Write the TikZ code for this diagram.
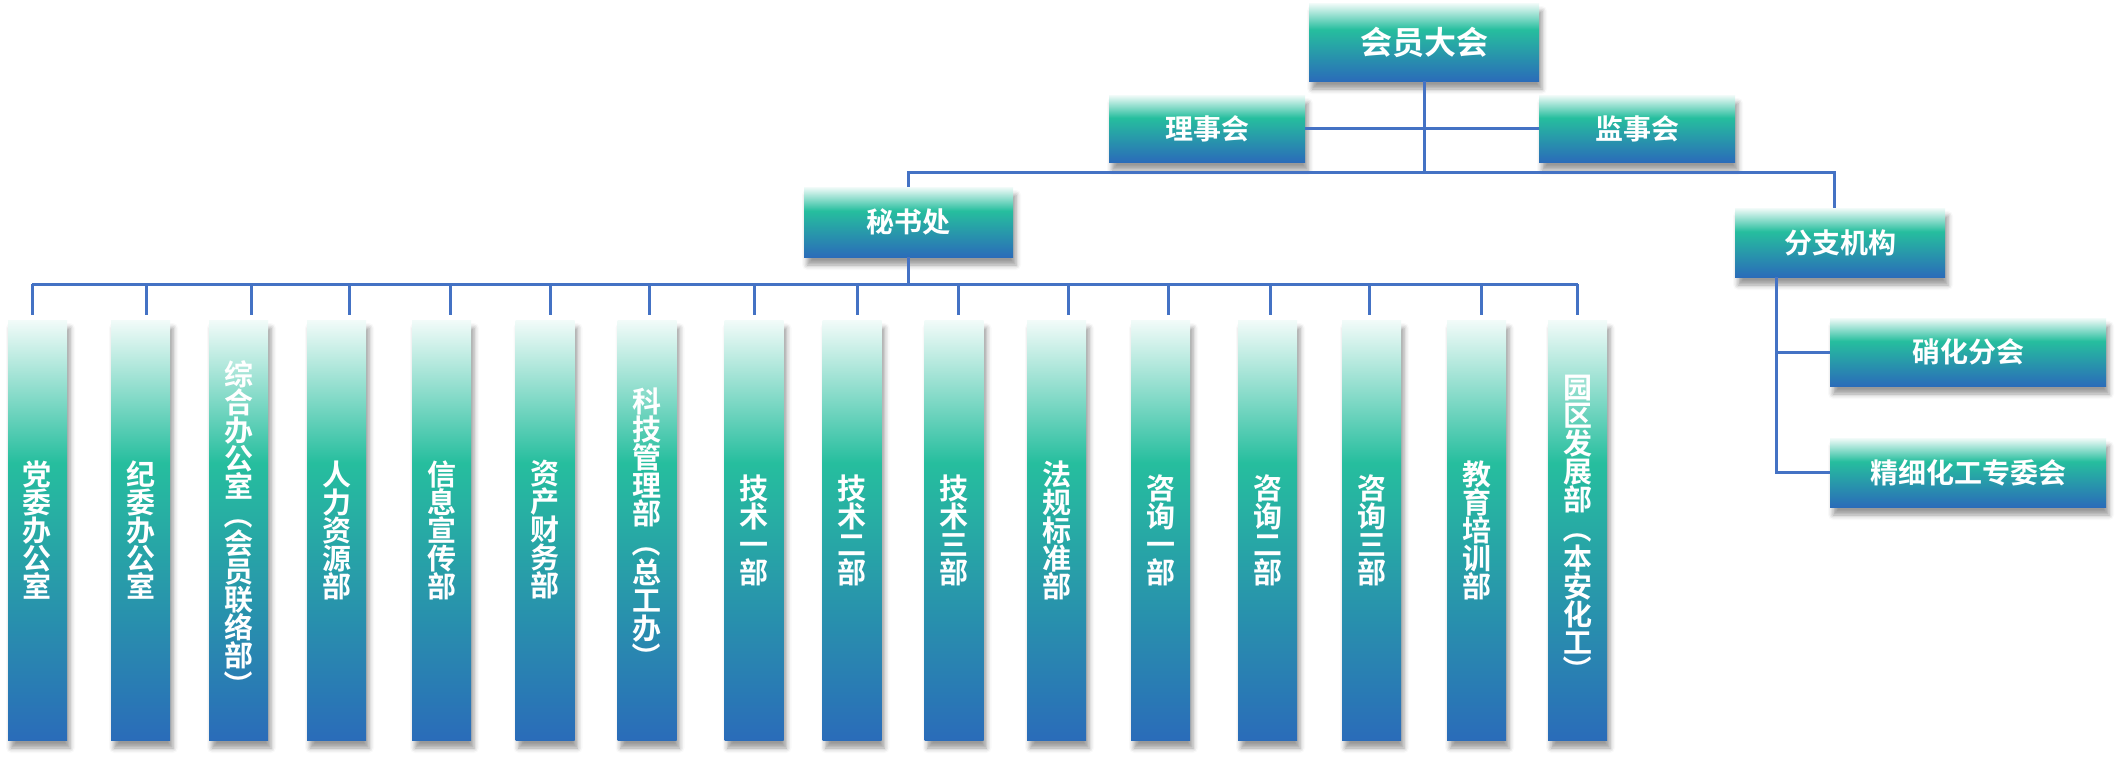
\documentclass[tikz,border=0pt]{standalone}
\usepackage{fontspec}
\setmainfont{Noto Sans CJK SC}[BoldFont={Noto Sans CJK SC Bold}]
\usepackage{graphicx}
\usepackage{tikz}
\usetikzlibrary{positioning, shadows.blur}

\definecolor{orgblue}{HTML}{2A6CB9}
\definecolor{orggreen}{HTML}{26BE9E}
\definecolor{orgtop}{HTML}{F2FBF9}
\definecolor{orgline}{HTML}{4472C4}

\pgfdeclareverticalshading{orgshade}{100bp}{%
  color(0bp)=(orgblue); color(25bp)=(orgblue); color(58bp)=(orggreen);
  color(75bp)=(orgtop); color(100bp)=(orgtop)}

% parentheses turned for vertical text
\newcommand{\vlparen}{\rotatebox[origin=c]{-90}{（}}
\newcommand{\vrparen}{\rotatebox[origin=c]{-90}{）}}

\begin{document}
\begin{tikzpicture}[
    x=1pt, y=-1pt,
    box/.style = {
        shade, shading=orgshade, inner sep=0pt,
        text=white, align=center,
        font=\fontsize{28}{30}\selectfont\bfseries,
        blur shadow={shadow xshift=3pt, shadow yshift=-8pt,
                     shadow blur radius=5pt, shadow opacity=40}
    },
    colbox/.style = {
        box, minimum width=59pt, minimum height=420pt,
        font=\fontsize{29}{28}\selectfont\bfseries
    },
    link/.style = {draw=orgline, line width=3pt},
]
\useasboundingbox (0,0) rectangle (2115,756);

%% ── Top level ────────────────────────────────────────────────────────
\node[box, minimum width=230pt, minimum height=78pt,
      font=\fontsize{32}{34}\selectfont\bfseries]
  (hyd) at (1424, 42) {会员大会};
\node[box, minimum width=196pt, minimum height=67pt] (lsh) at (1207, 128.5) {理事会};
\node[box, minimum width=196pt, minimum height=67pt] (jsh) at (1637, 128.5) {监事会};

%% ── Second level ─────────────────────────────────────────────────────
\node[box, minimum width=209pt, minimum height=70pt] (msc)  at (908.5, 222) {秘书处};
\node[box, minimum width=210pt, minimum height=69pt] (fzjg) at (1840, 242.5) {分支机构};

%% Branches (right side)
\node[box, minimum width=276pt, minimum height=68pt] (xhfh) at (1968, 352) {硝化分会};
\node[box, minimum width=276pt, minimum height=69pt] (jxhg) at (1968, 472.5) {精细化工专委会};

%% ── Departments (y = 530) ────────────────────────────────────────────
\coordinate (bar) at (0, 284);
\foreach \x/\off/\name/\txt in {
    37.5/-5.5/dwb/{党\\委\\办\\公\\室},
    140.5/5.5/jwb/{纪\\委\\办\\公\\室},
    238.5/12.5/zhb/{综\\合\\办\\公\\室\\\vlparen\\会\\员\\联\\络\\部\\\vrparen},
    336.5/12.5/rlb/{人\\力\\资\\源\\部},
    441.5/8.5/xxb/{信\\息\\宣\\传\\部},
    545/5/cwb/{资\\产\\财\\务\\部},
    647/2/kjb/{科\\技\\管\\理\\部\\\vlparen\\总\\工\\办\\\vrparen},
    754/0/jsa/{技\\术\\一\\部},
    852/5/jsb/{技\\术\\二\\部},
    954/4/jsc/{技\\术\\三\\部},
    1056.5/11.5/fgb/{法\\规\\标\\准\\部},
    1160.5/7.5/zxa/{咨\\询\\一\\部},
    1267.5/2.5/zxb/{咨\\询\\二\\部},
    1371.5/-2.5/zxc/{咨\\询\\三\\部},
    1476.5/4.5/jyb/{教\\育\\培\\训\\部},
    1577.5/0/yqb/{园\\区\\发\\展\\部\\\vlparen\\本\\安\\化\\工\\\vrparen}%
  }{
  \node[colbox] (\name) at (\x, 530) {\txt};
  \coordinate (\name-t) at ([xshift=\off pt, yshift=5pt]\name.north);
  \draw[link] (\name-t) -- (\name-t |- bar);
}

%% ── Connectors ───────────────────────────────────────────────────────
\coordinate (mid) at (0, 172);
\coordinate (fzjg-in) at ([xshift=-6pt]fzjg.north);
\draw[link] (hyd.south) -- (hyd.south |- mid);
\draw[link] (lsh.east) -- (jsh.west);
\draw[link] (msc.north) |- (fzjg-in |- mid) -- (fzjg-in);

\draw[link] (msc.south) -- (msc.south |- bar);
\draw[link] (dwb-t |- bar) -- (yqb-t |- bar);

\coordinate (fzjg-out) at ([xshift=42pt]fzjg.south west);
\draw[link] (fzjg-out) |- (jxhg.west);
\draw[link] (fzjg-out |- xhfh.west) -- (xhfh.west);

\end{tikzpicture}
\end{document}
